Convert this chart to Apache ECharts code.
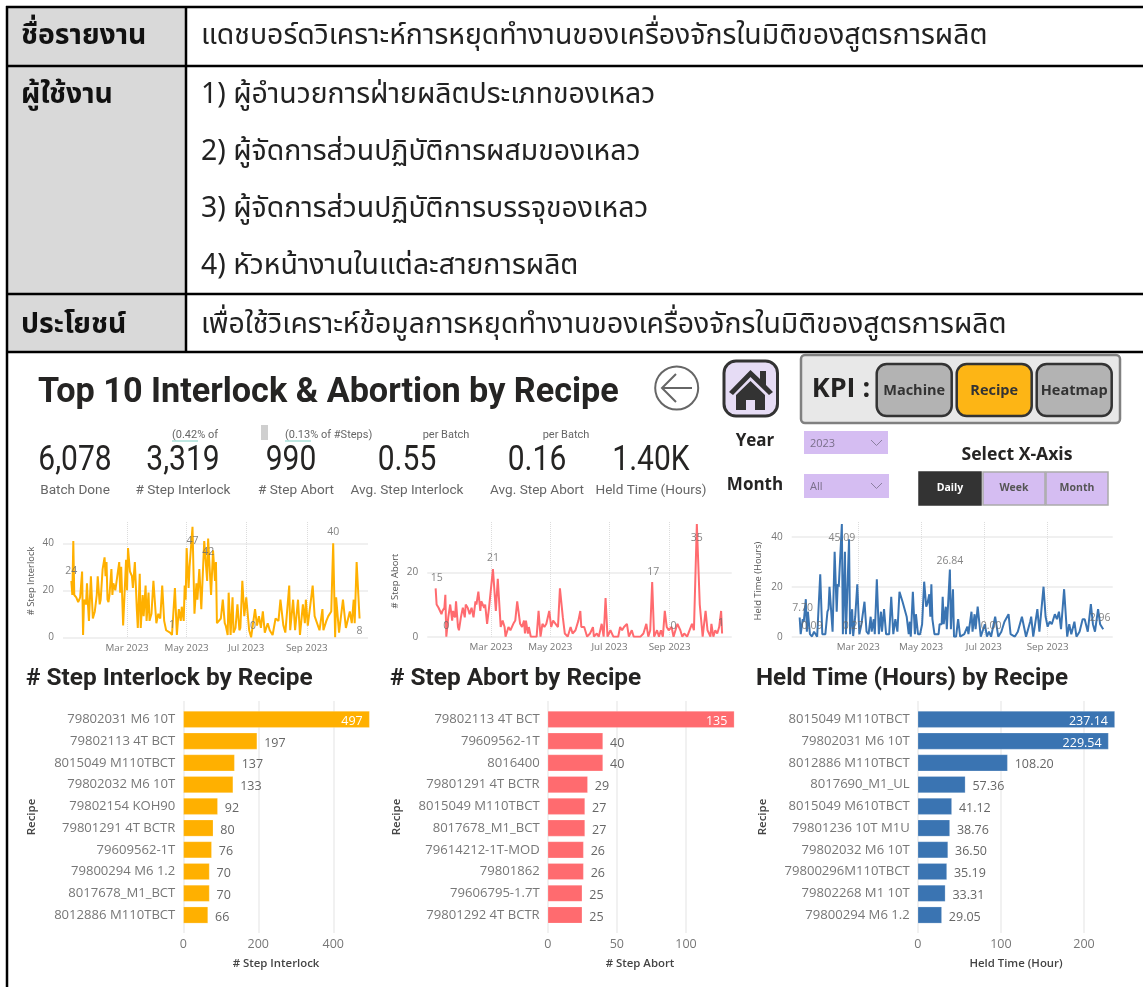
<!DOCTYPE html>
<html><head><meta charset="utf-8">
<style>html,body{margin:0;padding:0;background:#fff;overflow:hidden}#c{width:1143px;height:987px}</style>
<script src="https://cdn.jsdelivr.net/npm/echarts@6/dist/echarts.min.js"></script>
</head><body><div id="c"></div>
<script>
// ---------- data ----------
const interlockDays=[2,3,4,5,7,9,11,13,14,15,17,18,19,20,22,24,26,28,29,31,32,34,36,37,38,39,40,41,43,44,45,47,49,51,52,53,55,58,59,60,62,64,65,67,69,70,72,73,75,76,78,79,81,82,84,86,89,91,93,95,97,99,103,105,108,110,112,114,115,117,118,119,120,122,123,126,128,130,131,133,135,138,141,142,145,147,149,150,151,155,157,159,160,162,163,165,167,168,170,172,174,175,177,179,181,184,186,188,190,192,194,196,198,200,203,205,208,211,214,216,219,221,225,226,229,231,234,236,239,241,242,244,249,251,253,256,259,260,263,265,268,270,272,273,276,280,283,287,289,291,292,294,297];
const interlockValues=[24,18,41,18,17,15,17,28,1,16,14,23,14,7,26,8,11,18,26,14,16,29,34,26,32,16,15,18,29,18,23,20,20,32,19,30,5,33,20,38,28,26,21,32,12,4,27,4,18,9,22,7,19,7,10,24,6,10,8,22,7,3,2,1,21,1,12,7,13,7,22,16,38,21,30,47,10,23,16,29,12,41,24,42,18,37,24,32,6,8,16,6,5,1,19,1,17,2,4,14,3,4,24,9,17,3,0,0,12,5,9,4,11,2,6,3,1,8,7,16,5,2,22,3,16,3,16,1,14,6,16,5,22,9,9,3,12,3,7,9,11,40,0,17,2,16,4,11,6,16,6,32,8];
const abortDays=[2,3,5,6,8,9,11,12,13,15,17,19,20,22,23,25,26,28,30,32,33,35,37,39,41,43,44,46,48,49,52,53,55,57,59,61,64,66,69,71,73,74,77,79,82,84,86,89,91,93,94,95,97,98,100,106,108,110,112,114,116,119,121,123,125,128,130,133,135,138,141,143,146,149,151,152,155,158,161,164,165,168,170,173,175,177,179,182,185,190,192,194,196,199,201,204,206,213,216,219,221,223,225,227,230,232,234,236,238,240,242,245,247,249,251,254,256,258,261,263,266,268,271,274,277,280,282,285,286,288,290,292,294,296,297];
const abortValues=[15,10,9,9,7,8,9,13,0,6,10,5,8,6,11,3,2,6,9,6,10,9,7,9,6,11,10,14,8,11,9,10,4,9,9,21,8,18,3,5,3,0,3,2,4,5,11,4,3,5,1,5,1,3,0,0,8,0,4,3,4,8,3,5,5,3,15,6,1,0,3,1,2,5,8,3,3,0,1,3,0,1,0,4,0,12,0,2,0,0,3,2,3,4,0,2,0,0,1,4,0,2,17,0,2,0,2,0,8,3,2,3,0,0,4,2,0,1,0,0,4,2,35,10,0,8,2,0,4,0,2,1,3,8,1];
const heldDays=[2,3,5,6,8,9,10,12,13,14,16,19,20,22,24,27,29,30,31,34,36,38,39,40,43,44,46,47,50,51,53,54,56,58,60,62,65,67,69,71,72,74,75,77,79,81,82,84,86,89,91,93,95,97,99,102,106,108,109,110,112,114,115,117,119,121,123,125,126,128,129,130,131,133,137,138,140,141,142,144,145,148,149,151,152,154,156,158,162,165,166,169,170,172,173,175,178,182,184,186,188,192,195,198,201,205,207,211,214,218,222,226,227,229,233,235,239,241,243,245,247,250,252,254,256,259,262,264,266,269,271,274,277,279,282,285,287,289,292,294,297];
const heldValues=[7.7,1,7,6,15,2,10,1,1,0.09,2,0,0.5,25,1,1,10,11,20,2,34,10,21,20,45.09,1,34,1,39,1,11,0.27,8,21,1,5,14,2,1,8,2,7,1,23,1,10,2,11,1,1,16,1,7,2,18,14,8,1,6,0,18,1,9,1,1,5,22,12,13,17,8,21,7,1,1,5,5,16,5,12,3,26.84,3,19,0,0,7,0,1,4,1,10,2,9,3,12,0,5,0,2,0,8,0,2,6,9,1,0,2,8,0,6,8,0,11,2,20,8,4,6,5,9,7,10,3,19,0,5,1,6,0,2,7,7,2,13,5,2,11,5,2.96];
const monthTickDays=[59,120,181,243];
const monthTickLabels=['Mar 2023','May 2023','Jul 2023','Sep 2023'];

const interlockRecipes=['79802031 M6 10T','79802113 4T BCT','8015049 M110TBCT','79802032 M6 10T','79802154 KOH90','79801291 4T BCTR','79609562-1T','79800294 M6 1.2','8017678_M1_BCT','8012886 M110TBCT'];
const interlockTotals=[497,197,137,133,92,80,76,70,70,66];
const abortRecipes=['79802113 4T BCT','79609562-1T','8016400','79801291 4T BCTR','8015049 M110TBCT','8017678_M1_BCT','79614212-1T-MOD','79801862','79606795-1.7T','79801292 4T BCTR'];
const abortTotals=[135,40,40,29,27,27,26,26,25,25];
const heldRecipes=['8015049 M110TBCT','79802031 M6 10T','8012886 M110TBCT','8017690_M1_UL','8015049 M610TBCT','79801236 10T M1U','79802032 M6 10T','79800296M110TBCT','79802268 M1 10T','79800294 M6 1.2'];
const heldTotals=[237.14,229.54,108.20,57.36,41.12,38.76,36.50,35.19,33.31,29.05];

const kpiValues=['6,078','3,319','990','0.55','0.16','1.40K'];
const kpiNames=['Batch Done','# Step Interlock','# Step Abort','Avg. Step Interlock','Avg. Step Abort','Held Time (Hours)'];
const tableHeads=['ชื่อรายงาน','ผู้ใช้งาน','ประโยชน์'];
const reportName='แดชบอร์ดวิเคราะห์การหยุดทำงานของเครื่องจักรในมิติของสูตรการผลิต';
const reportUsers=['1) ผู้อำนวยการฝ่ายผลิตประเภทของเหลว','2) ผู้จัดการส่วนปฏิบัติการผสมของเหลว','3) ผู้จัดการส่วนปฏิบัติการบรรจุของเหลว','4) หัวหน้างานในแต่ละสายการผลิต'];
const reportBenefit='เพื่อใช้วิเคราะห์ข้อมูลการหยุดทำงานของเครื่องจักรในมิติของสูตรการผลิต';

// ---------- presentation ----------
const UI='"Open Sans","Noto Sans",sans-serif', DIN='"Liberation Sans Narrow","Roboto",sans-serif', HEAD='Roboto,"Open Sans",sans-serif';
const THAI='"Noto Sans Thai","Noto Sans","DejaVu Sans",sans-serif';
const lineCharts=[
 {days:interlockDays,vals:interlockValues,color:'#FFB000',name:'# Step Interlock',L:63,R:368,x0:69.4,ppd:.977,y0:637.3,ppu:2.35,ticks:[0,20,40],nameX:31,
  callouts:{2:['24',0,-10],126:['47',0,14],142:['42',0,13],105:['1',0,-10],188:['0',0,-11],270:['40',0,-11],297:['8',0,13]}},
 {days:abortDays,vals:abortValues,color:'#FF6B6F',name:'# Step Abort',L:427.3,R:731.7,x0:433.7,ppd:.971,y0:636.7,ppu:3.22,ticks:[0,20],nameX:395,
  callouts:{2:['15',1,-10],13:['0',0,-11],61:['21',0,-11],225:['17',1,-10],247:['0',0,-11],297:['1',-1,-10],271:['35',0,14]}},
 {days:heldDays,vals:heldValues,color:'#3A74B2',name:'Held Time (Hours)',L:791.7,R:1112.7,x0:797.6,ppd:1.029,y0:636.7,ppu:2.5,ticks:[0,20,40],nameX:758,
  callouts:{2:['7.70',3,-9],14:['0.09',0,-10],43:['45.09',0,14],54:['0.27',0,-10],148:['26.84',0,-9],188:['0.00',0,-11],297:['2.96',-3,-11]}}
];
const barCharts=[
 {cats:interlockRecipes,vals:interlockTotals,color:'#FFB000',axisName:'# Step Interlock',x0:183.3,ppu:.375,ticks:[0,200,400],inside:1,fmt:v=>String(v),recipeX:32,nameC:276},
 {cats:abortRecipes,vals:abortTotals,color:'#FF6B6F',axisName:'# Step Abort',x0:547.7,ppu:1.383,ticks:[0,50,100],inside:1,fmt:v=>String(v),recipeX:396.5,nameC:640},
 {cats:heldRecipes,vals:heldTotals,color:'#3A74B2',axisName:'Held Time (Hour)',x0:917.7,ppu:.8317,ticks:[0,100,200],inside:2,fmt:v=>v.toFixed(2),recipeX:763,nameC:1016}
];
const CW=1143,CH=987;
const grids=[],xAxes=[],yAxes=[],series=[];
const gray='#777';
lineCharts.forEach(c=>{
  const g=grids.length;
  const maxV=(c.y0-522)/c.ppu;
  grids.push({left:c.L,width:c.R-c.L,top:522,height:c.y0-522});
  xAxes.push({type:'value',gridIndex:g,min:(c.L-c.x0)/c.ppd,max:(c.R-c.x0)/c.ppd,
    axisLine:{show:false},axisTick:{show:false,customValues:monthTickDays},
    splitLine:{show:true,lineStyle:{color:'#dcdcdc',type:'dotted',width:1}},
    axisLabel:{customValues:monthTickDays,margin:6,color:gray,fontFamily:UI,fontSize:9.8,hideOverlap:false,
      formatter:v=>monthTickLabels[monthTickDays.indexOf(v)]||''}});
  yAxes.push({type:'value',gridIndex:g,min:0,max:maxV,
    axisLine:{show:false},axisTick:{show:false,customValues:c.ticks},
    splitLine:{show:true,lineStyle:{color:'#f0f0f0',width:2}},
    axisLabel:{customValues:c.ticks,margin:9,color:gray,fontFamily:UI,fontSize:10}});
  const pts=c.days.map((d,i)=>[d,c.vals[i]]);
  series.push({type:'line',xAxisIndex:g,yAxisIndex:g,data:pts,showSymbol:false,symbol:'none',smooth:false,
    lineStyle:{color:c.color,width:2},itemStyle:{color:c.color},animation:false,z:3});
  const labelled=c.days.map((d,i)=>c.callouts[d]?{value:[d,c.vals[i]],label:{formatter:c.callouts[d][0],offset:[c.callouts[d][1],c.callouts[d][2]]}}:null).filter(Boolean);
  series.push({type:'scatter',xAxisIndex:g,yAxisIndex:g,data:labelled,symbolSize:2,itemStyle:{color:'rgba(0,0,0,0)'},animation:false,z:4,silent:true,
    label:{show:true,position:'inside',color:'#666',fontFamily:UI,fontSize:10.5}});
});
barCharts.forEach(c=>{
  const right=c.x0+c.vals[0]*c.ppu+0.5, mx=(right-c.x0)/c.ppu;
  // tall grid carries the gridlines and value ticks, which overshoot the bars a little
  let g=grids.length;
  grids.push({left:c.x0,width:right-c.x0,top:701,height:232});
  xAxes.push({type:'value',gridIndex:g,min:0,max:mx,
    axisLine:{show:false},axisTick:{show:false,customValues:c.ticks},
    splitLine:{show:true,lineStyle:{color:'#ededed',width:1.5}},
    axisLabel:{customValues:c.ticks,margin:5,color:gray,fontFamily:UI,fontSize:12.5}});
  yAxes.push({type:'value',gridIndex:g,min:0,max:1,show:false});
  series.push({type:'scatter',xAxisIndex:g,yAxisIndex:g,data:[],silent:true});
  g=grids.length;
  grids.push({left:c.x0,width:right-c.x0,top:708.5,height:217.4});
  xAxes.push({type:'value',gridIndex:g,min:0,max:mx,show:false,splitLine:{show:false}});
  yAxes.push({type:'category',gridIndex:g,inverse:true,data:c.cats,
    axisLine:{show:false},axisTick:{show:false},splitLine:{show:false},
    axisLabel:{margin:8,color:gray,fontFamily:UI,fontSize:13.1}});
  series.push({type:'bar',xAxisIndex:g,yAxisIndex:g,barWidth:'77%',animation:false,z:3,
    itemStyle:{color:c.color,borderColor:'rgba(255,255,255,.35)',borderWidth:.6},
    data:c.vals.map((v,i)=>({value:v,label:i<c.inside
      ?{position:'insideRight',distance:7,offset:[0,2],color:'#fff',formatter:c.fmt(v)}
      :{position:'right',distance:7,offset:[0,2],color:'#666',formatter:c.fmt(v)}})),
    label:{show:true,fontFamily:UI,fontSize:12.5}});
});

// ---------- static dashboard furniture ----------
const G=[];
const rect=(x,y,w,h,fill,stroke,lw,r)=>G.push({type:'rect',silent:true,shape:{x,y,width:w,height:h,r:r||0},style:{fill:fill||'none',stroke:stroke||'none',lineWidth:lw||0}});
const line=(x1,y1,x2,y2,lw,col)=>G.push({type:'line',silent:true,shape:{x1,y1,x2,y2},style:{stroke:col||'#000',lineWidth:lw||2}});
const text=(t,x,y,font,fill,align,rot,sy)=>G.push({type:'text',silent:true,x,y,rotation:rot||0,scaleY:sy||1,style:{text:t,font,fill,align:align||'left',verticalAlign:'middle'}});

// table
rect(7,7,179,345,'#D9D9D9');
line(6,7,1143,7,2.5);line(6,66,1143,66,2.5);line(6,294,1143,294,2.5);line(6,352,1143,352,2.5);
line(7,6,7,987,2.5);line(186,7,186,352,2.5);
const thaiSize=28.4;
text(tableHeads[0],21,38,`bold ${thaiSize}px ${THAI}`,'#111');
text(tableHeads[1],21,97,`bold ${thaiSize}px ${THAI}`,'#111');
text(tableHeads[2],21,327,`bold ${thaiSize}px ${THAI}`,'#111');
text(reportName,201,38,`${thaiSize}px ${THAI}`,'#222');
[97,154,211,268].forEach((y,i)=>text(reportUsers[i],201,y,`${thaiSize}px ${THAI}`,'#222'));
text(reportBenefit,201,327,`${thaiSize}px ${THAI}`,'#222');

// header
text('Top 10 Interlock & Abortion by Recipe',38,393,`bold 34.2px ${HEAD}`,'#252423');
G.push({type:'circle',silent:true,shape:{cx:676.7,cy:388,r:21.5},style:{fill:'#fff',stroke:'#666',lineWidth:2}});
G.push({type:'polyline',silent:true,shape:{points:[[676,374],[662,388],[676,402]]},style:{fill:'none',stroke:'#666',lineWidth:2}});
line(662,388,692,388,2,'#666');
rect(724,361,53.5,55,'#E6DCF5','#333',3,12);
G.push({type:'polygon',silent:true,shape:{points:[[729,392],[750.5,370],[760,379],[760,371],[766,371],[766,385],[773,392],[769,395],[750.5,377],[733,395]]},style:{fill:'#333'}});
G.push({type:'polygon',silent:true,shape:{points:[[736,395],[750.5,381],[765,395],[765,410],[755,410],[755,400],[746,400],[746,410],[736,410]]},style:{fill:'#333'}});
rect(801,355,319,68,'#E8E8E8','#808080',2.5,4);
text('KPI :',841,389,`bold 27px ${UI}`,'#252423','center');
[['Machine',876.7,'#B3B3B3'],['Recipe',956.7,'#FDB515'],['Heatmap',1036.7,'#B3B3B3']].forEach(b=>{
  rect(b[1],364,75,52,b[2],'#333',2.5,10);
  text(b[0],b[1]+37.5,391,`bold 14.5px ${UI}`,'#333','center');
});
text('Year',755,441,`bold 17px ${UI}`,'#252423','center');
text('Month',755,485,`bold 17px ${UI}`,'#252423','center');
const ddFill='#D5BDF2';
[[804,431,84,23,'2023'],[804,474,85,24,'All']].forEach(d=>{
  rect(d[0],d[1],d[2],d[3],ddFill);
  text(d[4],810,d[1]+d[3]/2+1,`11px ${UI}`,'#7a6f8a');
  G.push({type:'polyline',silent:true,shape:{points:[[871,d[1]+9],[876.5,d[1]+14.5],[882,d[1]+9]]},style:{fill:'none',stroke:'#8b7fa0',lineWidth:1}});
});
text('Select X-Axis',1017,454.5,`bold 17.6px ${UI}`,'#252423','center');
[['Daily',919,'#333333','#fff','#333'],['Week',983,ddFill,'#555','#aaa'],['Month',1046,ddFill,'#555','#aaa']].forEach(b=>{
  rect(b[1],472,62,33,b[2],b[4],1.5);
  text(b[0],b[1]+31,488.5,`bold 10.5px ${UI}`,b[3],'center');
});

// KPI strip
[75,183,291,407,537,651].forEach((x,i)=>text(kpiValues[i],x,461,`30px ${DIN}`,'#252423','center',0,1.15));
[75,183,296,407,537,651].forEach((x,i)=>text(kpiNames[i],x,491,`13.6px ${DIN}`,'#666','center'));
text('(0.42% of',172,435,`11px ${DIN}`,'#666');
line(172,441,198,441,1,'#7fcfc4');
rect(261,425,7,15,'#cfcfcf');
text('(0.13% of #Steps)',285,435,`11px ${DIN}`,'#666');
line(285,441,311,441,1,'#7fcfc4');
text('per Batch',446,435,`11px ${DIN}`,'#666','center');
text('per Batch',566,435,`11px ${DIN}`,'#666','center');

// axis titles
lineCharts.forEach(c=>text(c.name,c.nameX,581,`9.4px ${UI}`,'#555','center',Math.PI/2));
text('# Step Interlock by Recipe',26,678.5,`bold 24.4px ${HEAD}`,'#252423');
text('# Step Abort by Recipe',390,678.5,`bold 24.4px ${HEAD}`,'#252423');
text('Held Time (Hours) by Recipe',756,678.5,`bold 24.2px ${HEAD}`,'#252423');
barCharts.forEach(c=>{
  text('Recipe',c.recipeX,817,`600 11.5px ${UI}`,'#444','center',Math.PI/2);
  text(c.axisName,c.nameC,964,`600 11.4px ${UI}`,'#444','center');
});

const chart=echarts.init(document.getElementById('c'),null,{renderer:'canvas',width:CW,height:CH});
chart.setOption({animation:false,backgroundColor:'#fff',tooltip:{show:false},
  grid:grids,xAxis:xAxes,yAxis:yAxes,series,graphic:{elements:G}});
</script></body></html>
